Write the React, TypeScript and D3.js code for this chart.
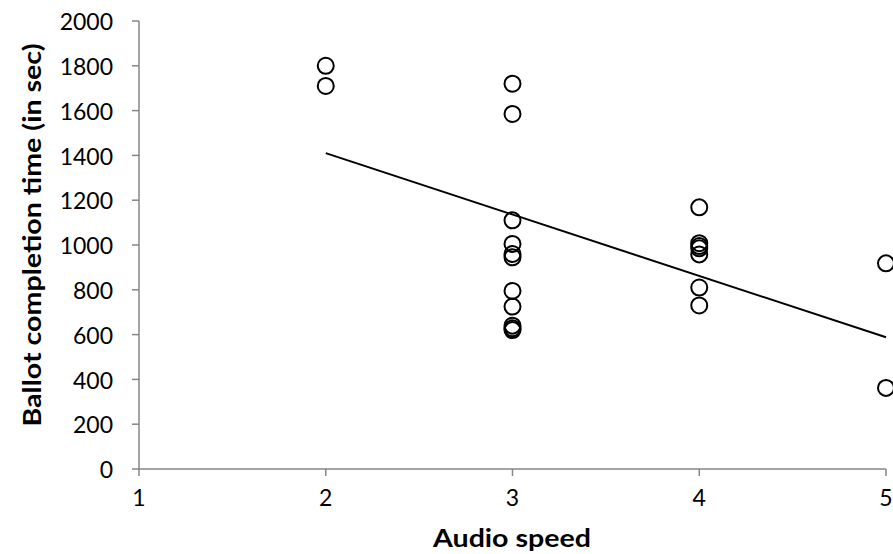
import React from 'react';
import * as d3 from 'd3';

// observations: audio speed -> completion time (sec)
const speeds = [2, 2, 3, 3, 3, 3, 3, 3, 3, 3, 3, 3, 3, 4, 4, 4, 4, 4, 4, 4, 5, 5];
const times = [1800, 1710, 1720, 1585, 1110, 1005, 960, 945, 795, 725, 640, 628, 620, 1168, 1008, 995, 985, 958, 810, 730, 918, 362];

// fitted trend line
const trendX = [2, 5];
const trendY = [1410, 588];

const xTicks = [1, 2, 3, 4, 5];
const yTicks = [0, 200, 400, 600, 800, 1000, 1200, 1400, 1600, 1800, 2000];

const W = 893;
const H = 554;
const font = 'Lato, "Open Sans", sans-serif';
const axisColor = '#868686';

const App = () => {
  const x = d3.scaleLinear().domain([1, 5]).range([139, 886]);
  const y = d3.scaleLinear().domain([0, 2000]).range([469, 21]);

  const pts = speeds.map((s, i) => ({ s, t: times[i] }));
  const trend = trendX.map((s, i) => [s, trendY[i]] as [number, number]);
  const line = d3.line<[number, number]>()
    .x(d => x(d[0]))
    .y(d => y(d[1]));

  return (
    <svg width={W} height={H} style={{ position: 'absolute', left: 0, top: 0 }}>
      <rect width={W} height={H} fill="#fff" />

      {/* y axis */}
      <line x1={x(1)} x2={x(1)} y1={y(0)} y2={y(2000)} stroke={axisColor} strokeWidth={1.5} />
      {yTicks.map(t => (
        <g key={'y' + t}>
          <line x1={x(1) - 7} x2={x(1)} y1={y(t)} y2={y(t)} stroke={axisColor} strokeWidth={1.5} />
          <text x={113} y={y(t) + 1} dy="0.36em" textAnchor="end" fontFamily={font} fontSize={23} fill="#000">
            {t}
          </text>
        </g>
      ))}

      {/* x axis */}
      <line x1={x(1)} x2={x(5)} y1={y(0)} y2={y(0)} stroke={axisColor} strokeWidth={1.5} />
      {xTicks.map(t => (
        <g key={'x' + t}>
          <line x1={x(t)} x2={x(t)} y1={y(0)} y2={y(0) + 7} stroke={axisColor} strokeWidth={1.5} />
          <text x={x(t)} y={506} textAnchor="middle" fontFamily={font} fontSize={23} fill="#000">
            {t}
          </text>
        </g>
      ))}

      {/* axis titles */}
      <text
        x={512}
        y={547}
        textAnchor="middle"
        fontFamily={font}
        fontWeight="bold"
        fontSize={25}
        textLength={158}
        lengthAdjust="spacingAndGlyphs"
        fill="#000"
      >
        Audio speed
      </text>
      <text
        transform={`translate(41,${(y(0) + y(2000)) / 2 - 10}) rotate(-90)`}
        textAnchor="middle"
        fontFamily={font}
        fontWeight="bold"
        fontSize={25}
        textLength={383}
        lengthAdjust="spacingAndGlyphs"
        fill="#000"
      >
        Ballot completion time (in sec)
      </text>

      {/* trend line */}
      <path d={line(trend) || ''} fill="none" stroke="#000" strokeWidth={2} />

      {/* points */}
      {pts.map((d, i) => (
        <circle key={i} cx={x(d.s)} cy={y(d.t)} r={8} fill="none" stroke="#000" strokeWidth={2} />
      ))}
    </svg>
  );
};

export default App;
